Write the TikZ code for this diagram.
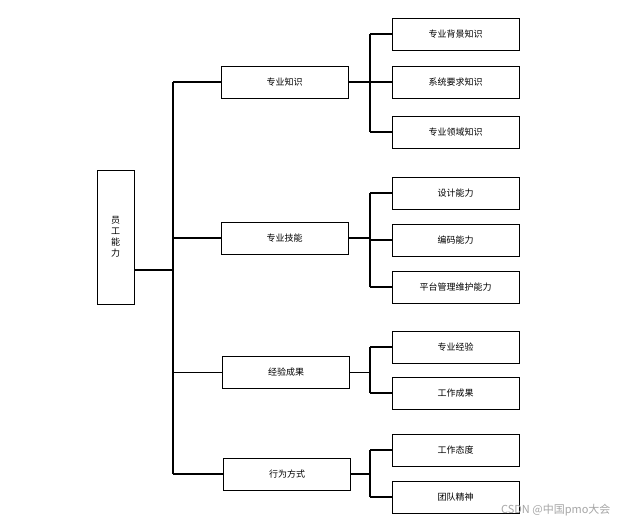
\documentclass[tikz,border=0pt]{standalone}
\usepackage{fontspec}
\newfontfamily\cjk{Noto Sans CJK SC}
\begin{document}
\begin{tikzpicture}[x=1pt,y=-1pt,
  box/.style={draw=black,line width=0.8pt,minimum width=127pt,minimum height=32pt,inner sep=0pt,font=\cjk\fontsize{9}{11}\selectfont},
  conn/.style={line width=1.3pt}]
\useasboundingbox (0,0) rectangle (629,529);
\fill[white] (0,0) rectangle (629,529);
\node[draw=black,line width=0.8pt,minimum width=37pt,minimum height=134pt,inner sep=0pt,font=\cjk\fontsize{9}{11}\selectfont,align=center] (root) at (115.5,237) {员\\工\\能\\力};
\node[box] (a) at (284.5,82) {专业知识};
\node[box] (b) at (284.5,238) {专业技能};
\node[box] (c) at (286,372.5) {经验成果};
\node[box] (d) at (287,474) {行为方式};
\node[box] (a1) at (455.5,34) {专业背景知识};
\node[box] (a2) at (455.5,82) {系统要求知识};
\node[box] (a3) at (455.5,132) {专业领域知识};
\node[box] (b1) at (455.5,193) {设计能力};
\node[box] (b2) at (455.5,240) {编码能力};
\node[box] (b3) at (455.5,287) {平台管理维护能力};
\node[box] (c1) at (455.5,347) {专业经验};
\node[box] (c2) at (455.5,393) {工作成果};
\node[box] (d1) at (455.5,450) {工作态度};
\node[box] (d2) at (455.5,497) {团队精神};
\coordinate (t) at (173,270);
\draw[conn] (root.east|-t) -- (t);
\draw[conn] (173,82) -- (173,474);
\foreach \n in {a,b,c,d} \draw[conn] (173,0|-\n.west) -- (\n.west);
\draw[conn] (a.east) -- (370,82);
\draw[conn] (370,34) -- (370,132);
\foreach \n in {a1,a2,a3} \draw[conn] (370,0|-\n.west) -- (\n.west);
\draw[conn] (b.east) -- (370,238);
\draw[conn] (370,193) -- (370,287);
\foreach \n in {b1,b2,b3} \draw[conn] (370,0|-\n.west) -- (\n.west);
\draw[conn] (c.east) -- (370,372.5);
\draw[conn] (370,347) -- (370,393);
\foreach \n in {c1,c2} \draw[conn] (370,0|-\n.west) -- (\n.west);
\draw[conn] (d.east) -- (370,474);
\draw[conn] (370,450) -- (370,497);
\foreach \n in {d1,d2} \draw[conn] (370,0|-\n.west) -- (\n.west);
\node[anchor=east,text=gray!70,font=\cjk\fontsize{11}{13}\selectfont] (wm) at (614,510) {CSDN @中国pmo大会};
\end{tikzpicture}
\end{document}
